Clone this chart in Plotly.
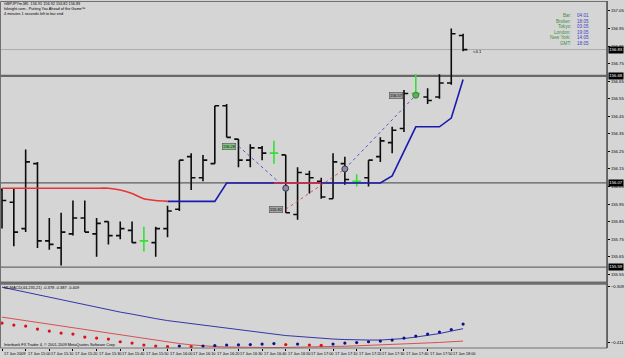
import plotly.graph_objects as go

# ---------------- data ----------------
symbol = "GBPJPYm,M5"
bars = list(range(40))  # M5 bars, 17 Jun 2009 14:50 .. 18:05
opens = [156.03, 155.96, 155.81, 156.18, 155.74, 155.70, 155.78, 155.87, 155.78, 155.85,
         155.77, 155.80, 155.74, 155.73, 155.81, 155.92, 156.22, 156.10, 156.18, 156.51,
         156.32, 156.20, 156.27, 156.24, 156.23, 155.89, 156.12, 156.08, 155.98, 156.18,
         156.08, 156.10, 156.22, 156.30, 156.38, 156.58, 156.56, 156.56, 156.64, 156.91]
highs = [156.04, 156.04, 156.26, 156.19, 155.87, 155.90, 155.97, 155.97, 155.87, 155.85,
         155.85, 155.85, 155.82, 155.82, 155.94, 156.20, 156.24, 156.23, 156.51, 156.52,
         156.32, 156.29, 156.28, 156.31, 156.23, 156.16, 156.14, 156.10, 156.24, 156.22,
         156.12, 156.20, 156.33, 156.39, 156.60, 156.69, 156.61, 156.69, 156.95, 156.92]
lows = [155.81, 155.71, 155.79, 155.70, 155.69, 155.60, 155.77, 155.79, 155.65, 155.72,
        155.75, 155.73, 155.68, 155.65, 155.76, 155.91, 156.03, 156.08, 156.18, 156.33,
        156.16, 156.16, 156.20, 156.18, 155.90, 155.86, 156.01, 155.98, 155.98, 156.06,
        156.05, 156.05, 156.19, 156.24, 156.36, 156.56, 156.52, 156.55, 156.63, 156.82]
closes = [155.97, 155.79, 156.19, 155.74, 155.72, 155.79, 155.87, 155.79, 155.84, 155.77,
          155.81, 155.73, 155.74, 155.81, 155.91, 156.20, 156.10, 156.20, 156.51, 156.33,
          156.20, 156.27, 156.24, 156.24, 155.90, 156.13, 156.10, 155.99, 156.19, 156.09,
          156.08, 156.20, 156.31, 156.37, 156.58, 156.58, 156.54, 156.64, 156.92, 156.83]

# trend indicator on price window (red = down state, blue = up state)
trend_red = [156.04] * 10 + [156.03, 156.01, 155.98, 155.97, 155.965] + [None] * 8 + [156.07] * 5 + [None] * 12
trend_blue = [None] * 14 + [155.965] * 5 + [156.07] * 14 + [156.11, 156.25, 156.39, 156.39, 156.39, 156.44, 156.66]

# horizontal line objects (bid line first)
hline_prices = [156.83, 156.68, 156.07, 155.59]

# trade history lines / markers
trade_x0 = [20, 24, 29]
trade_y0 = [156.28, 155.92, 156.15]
trade_x1 = [24, 29, 35]
trade_y1 = [156.04, 156.15, 156.57]
trade_kind = ["buy", "sell", "buy"]
label_bars = [19.8, 23.8, 33.9]
label_prices = [156.28, 155.92, 156.57]
circle_bars = [24, 29, 35]
circle_prices = [156.04, 156.15, 156.57]

# MLMACD(44,235,21) sub-window
macd_main = [-0.3764, -0.3800, -0.3818, -0.3873, -0.3909, -0.3946, -0.3964, -0.4019, -0.4037, -0.4055,
             -0.4104, -0.4128, -0.4164, -0.4183, -0.4195, -0.4183, -0.4192, -0.4183, -0.4174, -0.4164,
             -0.4161, -0.4155, -0.4146, -0.4137, -0.4155, -0.4146, -0.4164, -0.4170, -0.4146, -0.4128,
             -0.4119, -0.4104, -0.4092, -0.4073, -0.4037, -0.4001, -0.3964, -0.3928, -0.3882, -0.3782]
macd_blue = [-0.3108, -0.3154, -0.3199, -0.3245, -0.3290, -0.3336, -0.3381, -0.3427, -0.3472, -0.3518,
             -0.3563, -0.3600, -0.3645, -0.3682, -0.3718, -0.3746, -0.3773, -0.3809, -0.3837, -0.3864,
             -0.3891, -0.3919, -0.3946, -0.3964, -0.3991, -0.4010, -0.4028, -0.4046, -0.4055, -0.4064,
             -0.4073, -0.4073, -0.4073, -0.4064, -0.4046, -0.4019, -0.3991, -0.3955, -0.3909, -0.3866]
macd_red = [-0.3655, -0.3687, -0.3720, -0.3753, -0.3786, -0.3818, -0.3851, -0.3884, -0.3917, -0.3950,
            -0.3982, -0.4015, -0.4048, -0.4079, -0.4110, -0.4137, -0.4161, -0.4179, -0.4192, -0.4201,
            -0.4206, -0.4210, -0.4210, -0.4210, -0.4208, -0.4206, -0.4201, -0.4197, -0.4192, -0.4186,
            -0.4179, -0.4172, -0.4164, -0.4155, -0.4146, -0.4137, -0.4128, -0.4117, -0.4104, -0.4092]
sub_axis_values = [-0.309, -0.411]

time_label_bars = [0, 2, 4, 6, 8, 10, 12, 14, 16, 18, 20, 22, 24, 26, 28, 30, 32, 34, 36, 38]
time_labels = ["17 Jun 2009", "17 Jun 15:00", "17 Jun 15:10", "17 Jun 15:20", "17 Jun 15:30",
               "17 Jun 15:40", "17 Jun 15:50", "17 Jun 16:00", "17 Jun 16:10", "17 Jun 16:20",
               "17 Jun 16:30", "17 Jun 16:40", "17 Jun 16:50", "17 Jun 17:00", "17 Jun 17:10",
               "17 Jun 17:20", "17 Jun 17:30", "17 Jun 17:40", "17 Jun 17:50", "17 Jun 18:00"]

clock_names = ["Bar:", "Broker:", "Tokyo:", "London:", "New York:", "GMT:"]
clock_values = ["04:01", "18:05", "03:05", "19:05", "14:05", "18:05"]

header_lines = [
    f"{symbol}  {opens[-1]:.2f} {highs[-1]:.2f} {lows[-1]:.2f} {closes[-1]:.2f}",
    "fxknight.com - Putting You Ahead of the Game\u2122",
    "4 minutes 1 seconds left to bar end",
]
spread_text = "<4.1"

# ---------------- layout geometry (pixels) ----------------
W, H = 625, 358
def py(p):
    return 1 - p / H
def px(p):
    return p / W

BG = "#d5d5d5"
FONT = "Liberation Sans"
FS = 4.2
main_range = [155.5045, 157.1011]
sub_range = [-0.4219, -0.30536]
x_range = [-0.17, 51.18]
x_right = 611

fig = go.Figure()

# price bars (doji bars drawn in the line-graph colour); keep full x so tick width is per bar
doji = [o == c for o, c in zip(opens, closes)]
def sel(seq, want):
    return [v if d == want else None for v, d in zip(seq, doji)]

for want, color in ((False, "#0c0c0c"), (True, "#33e033")):
    fig.add_trace(go.Ohlc(
        x=bars, open=sel(opens, want), high=sel(highs, want), low=sel(lows, want), close=sel(closes, want),
        increasing=dict(line=dict(color=color, width=1.6)),
        decreasing=dict(line=dict(color=color, width=1.6)),
        tickwidth=0.36, hoverinfo="skip", xaxis="x", yaxis="y"))

# trend indicator lines
fig.add_trace(go.Scatter(x=bars, y=trend_blue, mode="lines", connectgaps=False,
                         line=dict(color="#1a1ab0", width=1.6), hoverinfo="skip", yaxis="y"))
fig.add_trace(go.Scatter(x=bars, y=trend_red, mode="lines", connectgaps=False,
                         line=dict(color="#e83434", width=1.6, shape="spline", smoothing=0.6),
                         hoverinfo="skip", yaxis="y"))

# trade lines
for x0, y0, x1, y1, k in zip(trade_x0, trade_y0, trade_x1, trade_y1, trade_kind):
    fig.add_trace(go.Scatter(x=[x0, x1], y=[y0, y1], mode="lines",
                             line=dict(color="#4848c8" if k == "buy" else "#d84848", width=0.9, dash="dot"),
                             hoverinfo="skip", yaxis="y"))
circle_fill = ["#8c8c9c", "#8c8c9c", "#6aa86a"]
circle_edge = ["#3a3a60", "#3a3a60", "#2a8a2a"]
fig.add_trace(go.Scatter(x=circle_bars, y=circle_prices, mode="markers",
                         marker=dict(size=6, color=circle_fill, line=dict(color=circle_edge, width=1)),
                         hoverinfo="skip", yaxis="y"))

# MACD sub-window
dot_colors = ["#e01010"] + ["#e01010" if b < a else "#10108c" for a, b in zip(macd_main, macd_main[1:])]
fig.add_trace(go.Scatter(x=bars, y=macd_blue, mode="lines", line=dict(color="#3434a8", width=1),
                         hoverinfo="skip", yaxis="y2"))
fig.add_trace(go.Scatter(x=bars, y=macd_red, mode="lines", line=dict(color="#d85050", width=1),
                         hoverinfo="skip", yaxis="y2"))
fig.add_trace(go.Scatter(x=bars, y=macd_main, mode="markers",
                         marker=dict(size=3.2, color=dot_colors), hoverinfo="skip", yaxis="y2"))

# ---------------- shapes ----------------
shapes = []
hl_styles = [("#ababab", 1), ("#676767", 2.2), ("#5e5e5e", 1.2), ("#6a6a6a", 1.3)]
for p, (c, w) in zip(hline_prices, hl_styles):
    shapes.append(dict(type="line", xref="paper", yref="y", x0=0, x1=px(x_right), y0=p, y1=p,
                       line=dict(color=c, width=w), layer="below"))
# frames
shapes.append(dict(type="rect", xref="paper", yref="paper", x0=px(0.5), x1=px(x_right), y0=py(282), y1=py(0.5),
                   line=dict(color="#707070", width=1)))
shapes.append(dict(type="rect", xref="paper", yref="paper", x0=px(0), x1=px(x_right), y0=py(284), y1=py(281.5),
                   fillcolor="#6c6c6c", line=dict(width=0)))
shapes.append(dict(type="rect", xref="paper", yref="paper", x0=px(0.5), x1=px(x_right), y0=py(348), y1=py(284),
                   line=dict(color="#707070", width=1)))
shapes.append(dict(type="line", xref="paper", yref="paper", x0=px(x_right), x1=px(x_right), y0=py(348), y1=py(0),
                   line=dict(color="#5a5a5a", width=1.6)))

# ---------------- annotations ----------------
ann = []
for i, t in enumerate(header_lines):
    ann.append(dict(xref="paper", yref="paper", x=px(2), y=py(3 + 5 * i), text=t, showarrow=False,
                    xanchor="left", yanchor="middle", font=dict(size=FS - 0.4, color="#000", family=FONT)))
for i, (n, v) in enumerate(zip(clock_names, clock_values)):
    yy = py(15 + 5.5 * i)
    ann.append(dict(xref="paper", yref="paper", x=px(577), y=yy, text=n, showarrow=False,
                    xanchor="right", yanchor="middle", font=dict(size=FS + 0.4, color="#3f8f3f", family=FONT)))
    ann.append(dict(xref="paper", yref="paper", x=px(579), y=yy, text=v, showarrow=False,
                    xanchor="left", yanchor="middle", font=dict(size=FS + 0.4, color="#4040c8", family=FONT)))
# highlighted price labels of lines
for p in hline_prices:
    ann.append(dict(xref="paper", yref="y", x=px(x_right + 1), y=p, text=f"{p:.2f}", showarrow=False,
                    xanchor="left", yanchor="middle", bgcolor="#000", borderpad=0.3,
                    font=dict(size=FS, color="#fff", family=FONT)))
# trade price labels
lab_bg = ["#86c486", "#a4a4a4", "#a4a4a4"]
for b, p, c in zip(label_bars, label_prices, lab_bg):
    ann.append(dict(xref="x", yref="y", x=b, y=p, text=f"{p:.2f}", showarrow=False,
                    xanchor="right", yanchor="middle", bgcolor=c, bordercolor="#505050",
                    borderwidth=0.6, borderpad=0.4, font=dict(size=FS - 0.3, color="#000", family=FONT)))
ann.append(dict(xref="x", yref="y", x=bars[-1] + 0.7, y=lows[-1], text=spread_text, showarrow=False,
                xanchor="left", yanchor="middle", font=dict(size=FS, color="#000", family=FONT)))
# sub-window caption
ann.append(dict(xref="paper", yref="paper", x=px(2), y=py(287.5),
                text=f"MLMACD(44,235,21) {macd_main[-1]:.3f} {macd_blue[-1]:.3f} {macd_red[-1]:.3f}",
                showarrow=False, xanchor="left", yanchor="middle",
                font=dict(size=FS - 0.2, color="#000", family=FONT)))
ann.append(dict(xref="paper", yref="paper", x=px(2), y=py(344.5),
                text="Interbank FX Trader 4, \u00a9 2001-2009 MetaQuotes Software Corp.",
                showarrow=False, xanchor="left", yanchor="middle",
                font=dict(size=FS - 0.3, color="#000", family=FONT)))
# time labels
for b, t in zip(time_label_bars, time_labels):
    ann.append(dict(xref="x", yref="paper", x=b, y=py(353), text=t, showarrow=False,
                    xanchor="left", yanchor="middle", xshift=0,
                    font=dict(size=FS - 0.3, color="#000", family=FONT)))

price_ticks = [round(155.55 + 0.1 * k, 2) for k in range(16)]

fig.update_layout(
    width=W, height=H, margin=dict(l=0, r=0, t=0, b=0),
    paper_bgcolor=BG, plot_bgcolor=BG, showlegend=False,
    font=dict(family=FONT, size=FS, color="#000"),
    shapes=shapes, annotations=ann,
    xaxis=dict(domain=[0, px(x_right)], range=x_range, anchor="y2", rangeslider=dict(visible=False),
               showgrid=False, zeroline=False, showticklabels=False, ticks="outside", ticklen=2,
               tickcolor="#000", tickwidth=1, tickvals=time_label_bars, showline=False),
    yaxis=dict(domain=[py(282), py(1)], range=main_range, side="right", anchor="x",
               showgrid=False, zeroline=False, tickvals=price_ticks, tickformat=".2f",
               ticks="outside", ticklen=2, tickcolor="#000", tickwidth=1,
               tickfont=dict(size=FS, color="#000", family=FONT), showline=False),
    yaxis2=dict(domain=[py(348), py(284)], range=sub_range, side="right", anchor="x",
                showgrid=False, zeroline=False, tickvals=sub_axis_values, tickformat=".3f",
                ticks="outside", ticklen=2, tickcolor="#000", tickwidth=1,
                tickfont=dict(size=FS, color="#000", family=FONT), showline=False),
)

fig.write_html("out.html")
